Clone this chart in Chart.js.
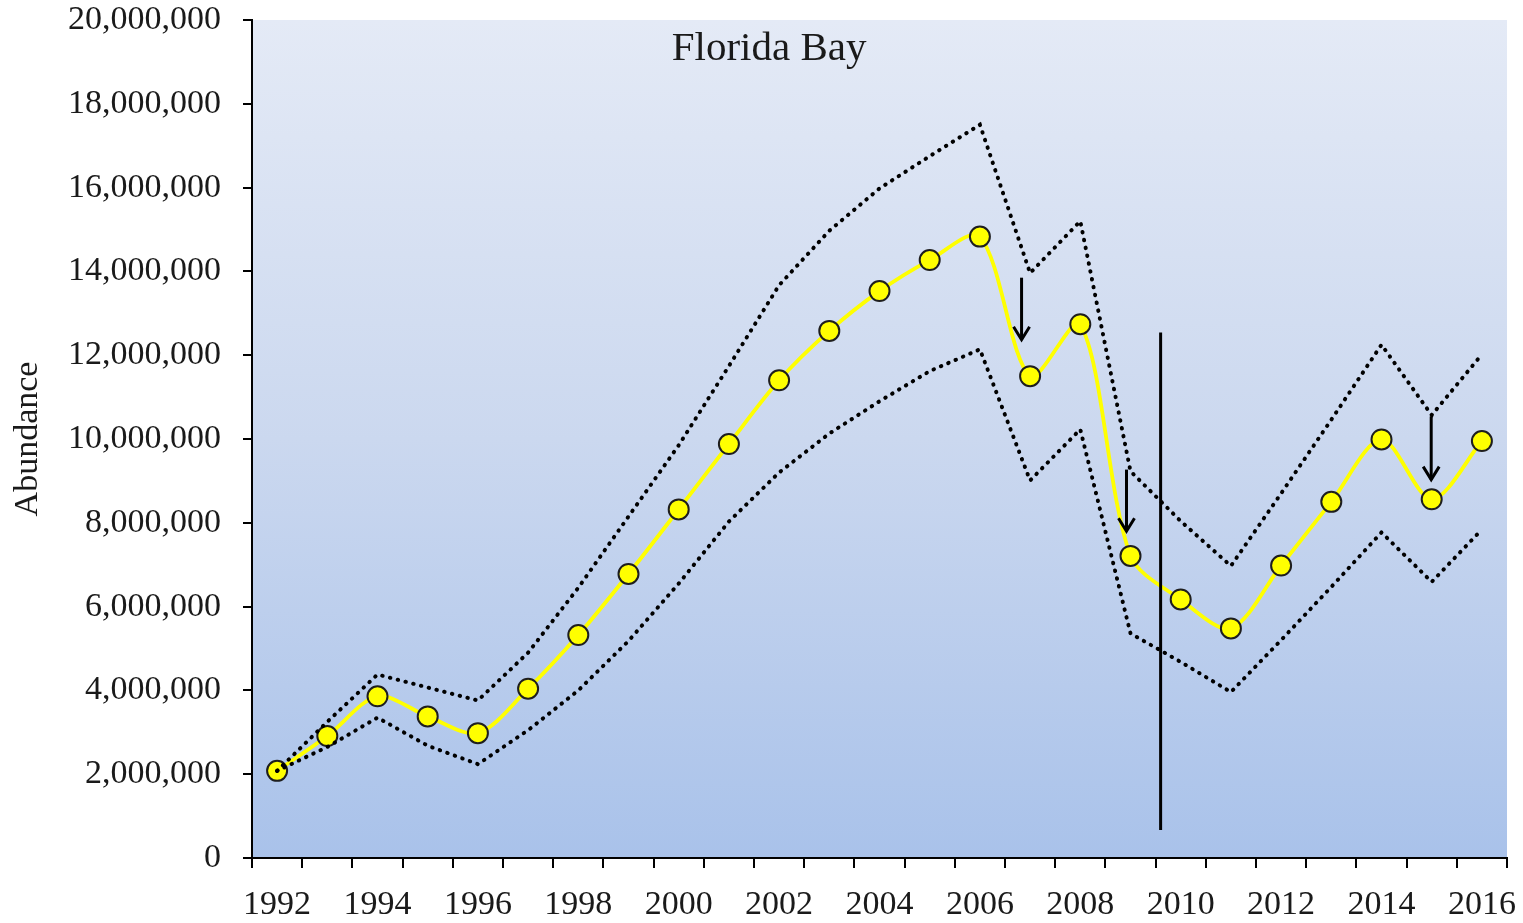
<!DOCTYPE html>
<html>
<head>
<meta charset="utf-8">
<title>Florida Bay</title>
<script src="https://cdn.jsdelivr.net/npm/chart.js@4"></script>
<style>
    html, body { margin: 0; padding: 0; background: #fff; }
    #wrap { width: 1523px; height: 923px; }
</style>
</head>
<body>
<div id="wrap"><canvas id="bay" width="1523" height="923"></canvas></div>
<script>
    "use strict";

    // Data
    var years = ["1992", "1993", "1994", "1995", "1996", "1997", "1998", "1999", "2000",
        "2001", "2002", "2003", "2004", "2005", "2006", "2007", "2008", "2009", "2010",
        "2011", "2012", "2013", "2014", "2015", "2016"];

    var abundance = [2080000, 2910000, 3860000, 3380000, 2980000, 4040000, 5320000, 6780000,
        8320000, 9880000, 11400000, 12580000, 13530000, 14270000, 14830000, 11500000,
        12740000, 7210000, 6170000, 5480000, 6980000, 8500000, 9990000, 8560000, 9950000];

    var upper = [2080000, 3250000, 4380000, 4070000, 3760000, 4900000, 6450000, 8150000,
        9850000, 11740000, 13670000, 14970000, 15980000, 16750000, 17500000, 13960000,
        15200000, 9230000, 8040000, 6970000, 8700000, 10460000, 12250000, 10570000, 12020000];

    var lower = [2080000, 2650000, 3350000, 2680000, 2240000, 3050000, 4000000, 5180000,
        6550000, 8030000, 9200000, 10130000, 10900000, 11620000, 12140000, 9010000,
        10230000, 5360000, 4680000, 3960000, 5200000, 6470000, 7770000, 6590000, 7840000];

    var yTicks = [0, 2000000, 4000000, 6000000, 8000000, 10000000, 12000000, 14000000,
        16000000, 18000000, 20000000];

    // Annotations (x as year index, y in abundance units)
    var arrowAt = [14.83, 16.92, 22.99];
    var arrowFrom = [13850000, 9270000, 10540000];
    var arrowTo = [12370000, 7800000, 9030000];
    var markerAt = 17.6;
    var markerRange = [670000, 12540000];

    var serif = "'Liberation Serif', 'Times New Roman', serif";
    var ink = "#1a1a1a";


    // Background: white page, blue gradient plot area
    var plotBackground = {
        id: "plotBackground",
        beforeDraw: function (chart) {
            var ctx = chart.ctx, a = chart.chartArea;
            ctx.save();
            ctx.fillStyle = "#ffffff";
            ctx.fillRect(0, 0, chart.width, chart.height);
            var g = ctx.createLinearGradient(0, a.top, 0, a.bottom);
            g.addColorStop(0, "#e4eaf6");
            g.addColorStop(0.5, "#cbd8ef");
            g.addColorStop(1, "#a9c2ea");
            ctx.fillStyle = g;
            ctx.fillRect(a.left, a.top, a.right - a.left, a.bottom - a.top);
            ctx.restore();
        }
    };


    // Arrows, vertical marker and the in-plot title
    var marks = {
        id: "marks",
        afterDatasetsDraw: function (chart) {
            var ctx = chart.ctx, x = chart.scales.x, y = chart.scales.y;
            ctx.save();
            ctx.strokeStyle = "#000";
            ctx.lineWidth = 3;
            ctx.lineCap = "butt";

            var mx = x.getPixelForValue(markerAt);
            ctx.beginPath();
            ctx.moveTo(mx, y.getPixelForValue(markerRange[0]));
            ctx.lineTo(mx, y.getPixelForValue(markerRange[1]));
            ctx.stroke();

            for (var i = 0; i < arrowAt.length; i++) {
                var ax = x.getPixelForValue(arrowAt[i]);
                var y0 = y.getPixelForValue(arrowFrom[i]);
                var y1 = y.getPixelForValue(arrowTo[i]);
                ctx.beginPath();
                ctx.moveTo(ax, y0);
                ctx.lineTo(ax, y1);
                ctx.stroke();
                ctx.beginPath();
                ctx.moveTo(ax - 8, y1 - 13);
                ctx.lineTo(ax, y1);
                ctx.lineTo(ax + 8, y1 - 13);
                ctx.stroke();
            }

            ctx.fillStyle = ink;
            ctx.font = "41px " + serif;
            ctx.textAlign = "center";
            ctx.textBaseline = "alphabetic";
            ctx.fillText("Florida Bay", x.getPixelForValue(9.8), chart.chartArea.top + 40);
            ctx.restore();
        }
    };


    var ctx1 = document.getElementById("bay").getContext("2d");
    var bayChart = new Chart(ctx1, {
        type: "line",
        data: {
            labels: years,
            datasets: [{
                    label: "Upper",
                    data: upper,
                    borderColor: "#000",
                    borderWidth: 4,
                    borderDash: [0.5, 7.5],
                    borderCapStyle: "round",
                    pointRadius: 0,
                    tension: 0,
                    fill: false,
                    order: 1
                },
                {
                    label: "Lower",
                    data: lower,
                    borderColor: "#000",
                    borderWidth: 4,
                    borderDash: [0.5, 7.5],
                    borderCapStyle: "round",
                    pointRadius: 0,
                    tension: 0,
                    fill: false,
                    order: 1
                },
                {
                    label: "Abundance",
                    data: abundance,
                    borderColor: "#ffff00",
                    borderWidth: 3.8,
                    pointRadius: 10,
                    pointBackgroundColor: "#ffff00",
                    pointBorderColor: "#1e1e1e",
                    pointBorderWidth: 2,
                    tension: 0.3,
                    fill: false,
                    order: 2
                }
            ]
        },
        options: {
            responsive: false,
            animation: false,
            devicePixelRatio: 1,
            layout: { padding: { top: 20, right: 16, left: 0, bottom: 0 } },
            plugins: {
                legend: { display: false },
                tooltip: { enabled: false }
            },
            scales: {
                x: {
                    type: "category",
                    offset: true,
                    afterFit: function (scale) {
                        scale.height = 65;
                        scale.paddingLeft = 0;
                        scale.paddingRight = 0;
                    },
                    border: { display: true, color: "#000", width: 2 },
                    grid: {
                        offset: true,
                        drawOnChartArea: false,
                        drawTicks: true,
                        tickLength: 10,
                        color: "#000",
                        lineWidth: 2
                    },
                    ticks: {
                        autoSkip: false,
                        maxRotation: 0,
                        padding: 17,
                        color: ink,
                        font: { family: serif, size: 34 },
                        callback: function (value, index) {
                            return index % 2 === 0 ? years[index] : "";
                        }
                    }
                },
                y: {
                    min: 0,
                    max: 20000000,
                    afterFit: function (scale) {
                        scale.width = 252;
                        scale.paddingTop = 0;
                        scale.paddingBottom = 0;
                    },
                    afterBuildTicks: function (scale) {
                        scale.ticks = yTicks.map(function (v) { return { value: v }; });
                    },
                    border: { display: true, color: "#000", width: 2 },
                    grid: {
                        drawOnChartArea: false,
                        drawTicks: true,
                        tickLength: 9,
                        color: "#000",
                        lineWidth: 2
                    },
                    ticks: {
                        padding: 22,
                        color: ink,
                        font: { family: serif, size: 34 },
                        callback: function (value) {
                            return value.toLocaleString("en-US");
                        }
                    },
                    title: {
                        display: true,
                        text: "Abundance",
                        color: ink,
                        padding: { top: 8, bottom: 0 },
                        font: { family: serif, size: 34 }
                    }
                }
            }
        },
        plugins: [plotBackground, marks]
    });
</script>
</body>
</html>
